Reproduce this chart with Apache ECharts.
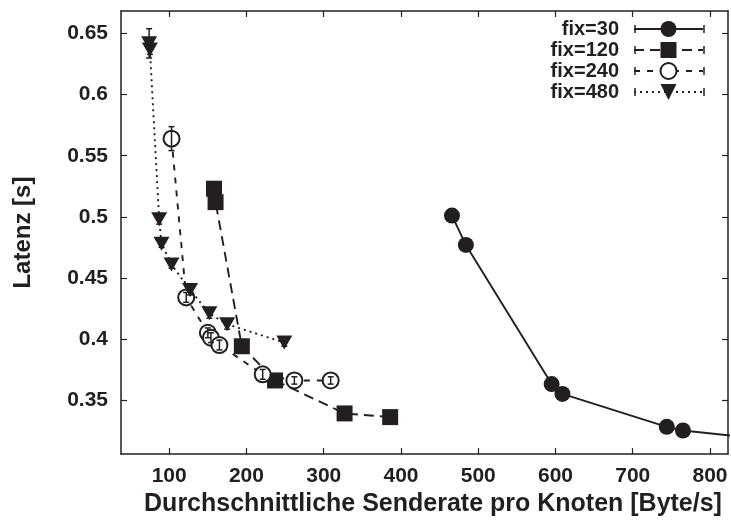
<!DOCTYPE html>
<html><head><meta charset="utf-8">
<script src="https://cdn.jsdelivr.net/npm/echarts@6/dist/echarts.min.js"></script>
<style>html,body{margin:0;padding:0;background:#fff}#c{width:731px;height:522px}</style>
</head><body><div id="c"></div>
<script>
// ---- data ----
const seriesNames = ['fix=30', 'fix=120', 'fix=240', 'fix=480'];

const fix30X   = [466, 484, 595, 609, 744, 765, 900];
const fix30Y   = [0.501, 0.477, 0.363, 0.355, 0.328, 0.325, 0.316];
const fix30Err = [0.003, 0.003, 0.003, 0.003, 0.002, 0.002, 0.002];

const fix120X   = [158, 160, 194, 237, 327, 386];
const fix120Y   = [0.523, 0.512, 0.394, 0.366, 0.339, 0.336];
const fix120Err = [0.003, 0.003, 0.003, 0.003, 0.002, 0.002];

const fix240X   = [103, 122, 150, 154, 165, 221, 262, 309];
const fix240Y   = [0.564, 0.434, 0.405, 0.401, 0.395, 0.371, 0.366, 0.366];
const fix240Err = [0.0098, 0.004, 0.004, 0.004, 0.004, 0.004, 0.003, 0.003];

const fix480X   = [74, 75, 87, 90, 103, 127, 152, 175, 249];
const fix480Y   = [0.642, 0.637, 0.498, 0.478, 0.461, 0.440, 0.421, 0.412, 0.397];
const fix480Err = [0.012, 0.004, 0.004, 0.003, 0.003, 0.004, 0.004, 0.004, 0.003];

const xTicks = [100, 200, 300, 400, 500, 600, 700, 800];
const yTicks = [0.35, 0.4, 0.45, 0.5, 0.55, 0.6, 0.65];

const xTitle = 'Durchschnittliche Senderate pro Knoten [Byte/s]';
const yTitle = 'Latenz [s]';

// ---- chart ----
const INK = '#231f20';
const FONT = '"Liberation Sans", Arial, Helvetica, sans-serif';
const xMin = 37.6, xMax = 823.3, yMin = 0.3057, yMax = 0.6685;

function zip(xs, ys) { return xs.map((x, i) => [x, ys[i]]); }
function zip3(xs, ys, es) { return xs.map((x, i) => [x, ys[i], es[i]]); }

function errRender(params, api) {
  const x = api.value(0), y = api.value(1), e = api.value(2);
  const t = api.coord([x, y + e]), b = api.coord([x, y - e]);
  const w = 3, st = { stroke: INK, lineWidth: 1.5 };
  return { type: 'group', children: [
    { type: 'line', shape: { x1: t[0], y1: t[1], x2: b[0], y2: b[1] }, style: st },
    { type: 'line', shape: { x1: t[0] - w, y1: t[1], x2: t[0] + w, y2: t[1] }, style: st },
    { type: 'line', shape: { x1: b[0] - w, y1: b[1], x2: b[0] + w, y2: b[1] }, style: st }
  ]};
}

const lineDefs = [
  { name: seriesNames[0], data: zip(fix30X, fix30Y), err: zip3(fix30X, fix30Y, fix30Err), symbol: 'circle', size: 16, rot: 0, dash: 'solid' },
  { name: seriesNames[1], data: zip(fix120X, fix120Y), err: zip3(fix120X, fix120Y, fix120Err), symbol: 'rect', size: 16, rot: 0, dash: [10, 6] },
  { name: seriesNames[2], data: zip(fix240X, fix240Y), err: zip3(fix240X, fix240Y, fix240Err), symbol: 'emptyCircle', size: 16, rot: 0, dash: [6, 7] },
  { name: seriesNames[3], data: zip(fix480X, fix480Y), err: zip3(fix480X, fix480Y, fix480Err), symbol: 'triangle', size: [16, 14], rot: 180, dash: [2, 4] }
];

const series = [];
lineDefs.forEach((d, i) => {
  series.push({
    name: d.name, type: 'line', data: d.data, clip: true,
    symbol: d.symbol, symbolSize: d.size, symbolRotate: d.rot,
    showAllSymbol: true,
    lineStyle: { color: INK, width: 1.9, type: d.dash },
    itemStyle: { color: INK, borderColor: INK, borderWidth: d.symbol === 'emptyCircle' ? 2 : 0 },
    emphasis: { disabled: true }, z: 2 + i
  });
});
lineDefs.forEach((d, i) => {
  series.push({
    name: 'err' + i, type: 'custom', data: d.err, clip: true,
    renderItem: errRender, z: 10, silent: true
  });
});

const axisCommon = {
  splitLine: { show: false },
  axisLine: { show: true, onZero: false, lineStyle: { color: INK, width: 1.5 } },
  axisTick: { show: true, inside: true, length: 6, lineStyle: { color: INK, width: 1.2 } }
};

const legendRows = [29, 50, 71, 92];
const capGraphics = [];
legendRows.forEach(y => {
  [635, 704].forEach(x => {
    capGraphics.push({ type: 'line', shape: { x1: x, y1: y - 4, x2: x, y2: y + 4 }, style: { stroke: INK, lineWidth: 1.5 }, z: 100 });
  });
});

const option = {
  backgroundColor: '#fff',
  animation: false,
  textStyle: { fontFamily: FONT },
  grid: { left: 121, right: 3, top: 11, bottom: 67, containLabel: false },
  legend: {
    data: seriesNames, orient: 'vertical', align: 'right', padding: 0,
    right: 27, top: 19, itemWidth: 69, itemHeight: 20, itemGap: 1,
    selectedMode: false,
    textStyle: { fontFamily: FONT, fontWeight: 'bold', fontSize: 20, color: INK, padding: [0, 10, 0, 0], lineHeight: 20 }
  },
  xAxis: [
    Object.assign({}, axisCommon, {
      type: 'value', min: xMin, max: xMax, position: 'bottom',
      name: xTitle, nameLocation: 'middle', nameGap: 25,
      nameTextStyle: { fontFamily: FONT, fontWeight: 'bold', fontSize: 25, color: INK, padding: [0, 0, 0, 17] },
      axisTick: Object.assign({}, axisCommon.axisTick, { customValues: xTicks }),
      axisLabel: { customValues: xTicks, fontFamily: FONT, fontWeight: 'bold', fontSize: 21, color: INK, margin: 12 }
    }),
    Object.assign({}, axisCommon, {
      type: 'value', min: xMin, max: xMax, position: 'top',
      axisTick: Object.assign({}, axisCommon.axisTick, { customValues: xTicks }),
      axisLabel: { show: false }
    })
  ],
  yAxis: [
    Object.assign({}, axisCommon, {
      type: 'value', min: yMin, max: yMax, position: 'left',
      name: yTitle, nameLocation: 'middle', nameGap: 86, nameRotate: 90,
      nameTextStyle: { fontFamily: FONT, fontWeight: 'bold', fontSize: 24, color: INK },
      axisTick: Object.assign({}, axisCommon.axisTick, { customValues: yTicks }),
      axisLabel: { customValues: yTicks, fontFamily: FONT, fontWeight: 'bold', fontSize: 21, color: INK, margin: 13 }
    }),
    Object.assign({}, axisCommon, {
      type: 'value', min: yMin, max: yMax, position: 'right',
      axisTick: Object.assign({}, axisCommon.axisTick, { customValues: yTicks }),
      axisLabel: { show: false }
    })
  ],
  graphic: capGraphics,
  series: series
};

const chart = echarts.init(document.getElementById('c'), null, { renderer: 'canvas' });
chart.setOption(option);
</script>
</body></html>
